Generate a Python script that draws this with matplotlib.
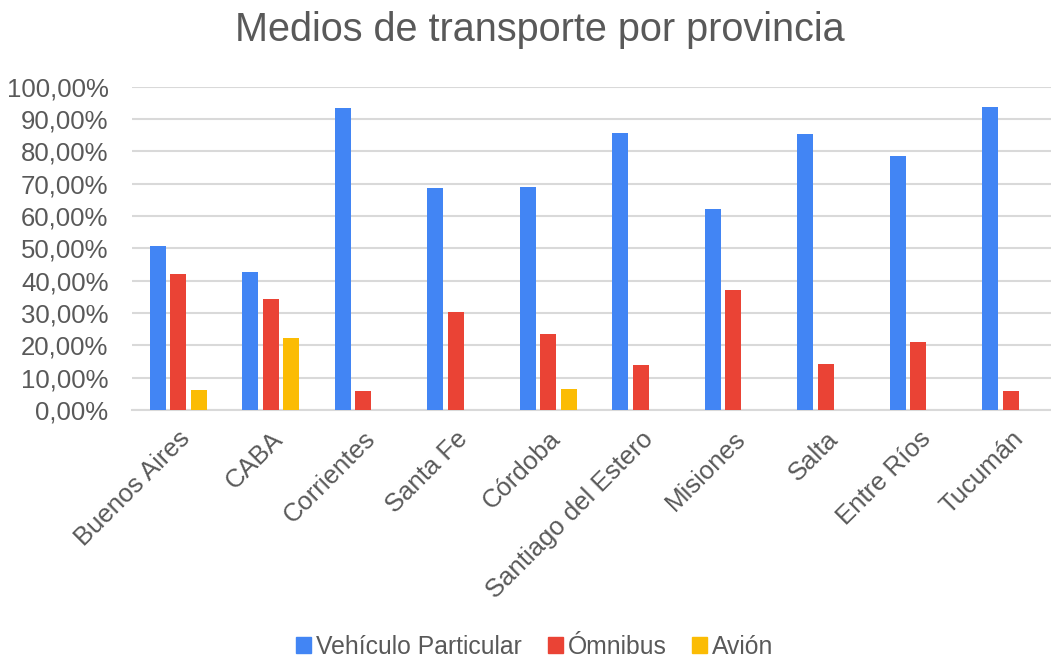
import matplotlib
matplotlib.use("Agg")
import matplotlib.pyplot as plt
from matplotlib.ticker import FuncFormatter
from matplotlib.patches import Patch
import numpy as np

provincias = ["Buenos Aires", "CABA", "Corrientes", "Santa Fe", "Córdoba",
              "Santiago del Estero", "Misiones", "Salta", "Entre Ríos", "Tucumán"]
vehiculo = [50.8, 42.8, 93.3, 68.7, 69.1, 85.7, 62.3, 85.3, 78.5, 93.8]
omnibus = [42.0, 34.2, 5.8, 30.4, 23.6, 13.8, 37.2, 14.2, 21.0, 5.8]
avion = [6.2, 22.4, 0.0, 0.0, 6.6, 0.0, 0.0, 0.0, 0.0, 0.0]
series_names = ["Vehículo Particular", "Ómnibus", "Avión"]
colors = ["#4285F4", "#EA4335", "#FBBC04"]

plt.rcParams['font.family'] = ['Liberation Sans', 'DejaVu Sans']
text_color = "#595959"

W, H = 1051, 660
fig = plt.figure(figsize=(W / 100, H / 100), dpi=100)
left_px, right_px = 132, 1051
bottom_px, top_px = 410, 86.7
ax = fig.add_axes([left_px / W, (H - bottom_px) / H,
                   (right_px - left_px) / W, (bottom_px - top_px) / H])

x = np.arange(len(provincias))
bw = 0.175
off = 0.222
for vals, o, c in zip([vehiculo, omnibus, avion], [-off, 0, off], colors):
    ax.bar(x + o, vals, width=bw, color=c, zorder=3)

ax.set_ylim(0, 100)
cat_px = 92.5
ax.set_xlim(-0.5, -0.5 + (right_px - left_px) / cat_px)
ax.set_yticks(np.arange(0, 101, 10))
ax.yaxis.set_major_formatter(FuncFormatter(lambda v, p: f"{v:.2f}".replace(".", ",") + "%"))
ax.grid(axis='y', color="#d9d9d9", linewidth=1.5, zorder=0)
for s in ["top", "right", "left"]:
    ax.spines[s].set_visible(False)
ax.spines["bottom"].set_color("#d9d9d9")
ax.spines["bottom"].set_linewidth(1.5)
ax.tick_params(axis='both', length=0, colors=text_color, labelsize=18.5)
ax.tick_params(axis='y', pad=17)
ax.tick_params(axis='x', pad=12)
ax.set_xticks(x)
ax.set_xticklabels(provincias, rotation=45, ha='right', rotation_mode='anchor')

fig.text(540 / W, 1 - 30 / H, "Medios de transporte por provincia", ha='center', va='center',
         fontsize=28.5, color=text_color)

handles = [Patch(color=c) for c in colors]
fig.legend(handles, series_names, loc='center', bbox_to_anchor=(535 / W, 1 - 647 / H),
           ncol=3, frameon=False, fontsize=17.8, handlelength=0.6, handleheight=0.6,
           handletextpad=0.2, columnspacing=1.05, labelcolor=text_color)

fig.savefig("out.png", dpi=100)
